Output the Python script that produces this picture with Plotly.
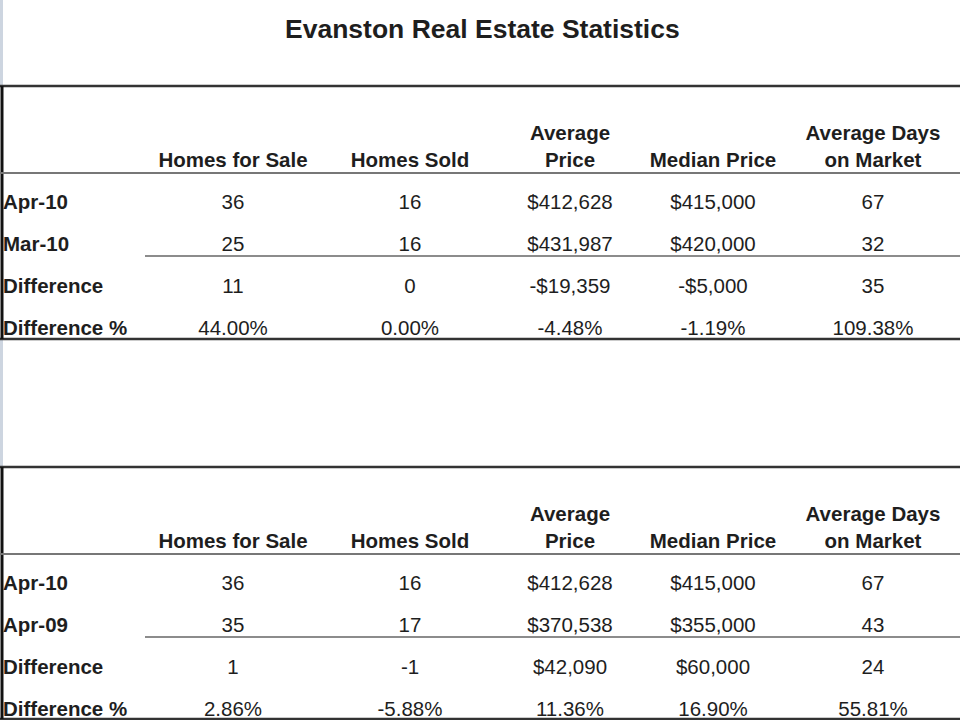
import numpy as np
import plotly.graph_objects as go

#?-------------------------------------------------------------------------------------------------------------------------------
#?  Data
#?-------------------------------------------------------------------------------------------------------------------------------
title        = "Evanston Real Estate Statistics"
columns      = ["Homes for Sale", "Homes Sold", "Average<br>Price", "Median Price", "Average Days<br>on Market"]
money_cols   = [2, 3]

month_labels = ["Apr-10", "Mar-10", "Difference", "Difference %"]
month_cur    = [36, 16, 412628, 415000, 67]
month_prev   = [25, 16, 431987, 420000, 32]
month_diff   = [11, 0, -19359, -5000, 35]
month_pct    = [44.00, 0.00, -4.48, -1.19, 109.38]

year_labels  = ["Apr-10", "Apr-09", "Difference", "Difference %"]
year_cur     = [36, 16, 412628, 415000, 67]
year_prev    = [35, 17, 370538, 355000, 43]
year_diff    = [1, -1, 42090, 60000, 24]
year_pct     = [2.86, -5.88, 11.36, 16.90, 55.81]

#?-------------------------------------------------------------------------------------------------------------------------------
#?  Layout settings (sheet geometry in pixels)
#?-------------------------------------------------------------------------------------------------------------------------------
W, H        = 960, 720
col_widths  = [145, 176, 178, 142, 144, 176]
table_tops  = [86, 467]
head_h      = 87      # top border -> header underline
first_row   = 31      # header underline -> first row centre
row_step    = 41.8
mid_line    = 83      # header underline -> line under 2nd row
table_h     = 253
FONT        = "Liberation Sans, Arial, sans-serif"
INK         = "#1e1e1e"
SIZE        = 20.5

edges   = np.concatenate([[0], np.cumsum(col_widths)])
centers = (edges[:-1] + edges[1:]) / 2
col_x   = centers[1:]

def fmt(v, j, pct=False):
    if pct:
        return f"{v:.2f}%"
    if j in money_cols:
        return ("-" if v < 0 else "") + f"${abs(v):,.0f}"
    return f"{v:d}"

fig = go.Figure()
shapes = []

# light window edge at the left
for y0, y1 in [(0, table_tops[0]), (table_tops[0] + table_h, table_tops[1])]:
    shapes.append(dict(type="rect", xref="x", yref="y", x0=0, x1=3, y0=y0, y1=y1,
                       fillcolor="#cdd5e0", line_width=0, layer="below"))

for top, labels, rows in [(table_tops[0], month_labels, [month_cur, month_prev, month_diff, month_pct]),
                          (table_tops[1], year_labels, [year_cur, year_prev, year_diff, year_pct])]:
    under  = top + head_h
    row_y  = [under + first_row + i * row_step for i in range(len(labels))]
    bottom = min(top + table_h, H - 1)

    # borders
    shapes += [dict(type="line", xref="x", yref="y", x0=0, x1=W, y0=top, y1=top, line=dict(color="#333", width=2.5)),
               dict(type="line", xref="x", yref="y", x0=0, x1=W, y0=bottom, y1=bottom, line=dict(color="#333", width=2.5)),
               dict(type="line", xref="x", yref="y", x0=2, x1=2, y0=top, y1=bottom, line=dict(color="#111", width=3)),
               dict(type="line", xref="x", yref="y", x0=0, x1=W, y0=under, y1=under, line=dict(color="#777", width=2)),
               dict(type="line", xref="x", yref="y", x0=edges[1], x1=W, y0=under + mid_line, y1=under + mid_line,
                    line=dict(color="#666", width=1.6))]

    # header
    fig.add_trace(go.Scatter(x=col_x, y=[under - 1] * len(columns), mode="text", text=columns,
                             textposition="top center", hoverinfo="skip", showlegend=False,
                             textfont=dict(family=FONT, size=SIZE, color=INK, weight="bold")))
    # row labels
    fig.add_trace(go.Scatter(x=[3] * len(labels), y=row_y, mode="text", text=labels,
                             textposition="middle right", hoverinfo="skip", showlegend=False,
                             textfont=dict(family=FONT, size=SIZE, color=INK, weight="bold")))
    # cells
    for i, vals in enumerate(rows):
        pct = i == len(rows) - 1
        fig.add_trace(go.Scatter(x=col_x, y=[row_y[i]] * len(vals), mode="text",
                                 text=[fmt(v, j, pct) for j, v in enumerate(vals)],
                                 textposition="middle center", hoverinfo="skip", showlegend=False,
                                 textfont=dict(family=FONT, size=SIZE, color=INK)))

fig.update_layout(
    width=W, height=H, margin=dict(l=0, r=0, t=0, b=0),
    paper_bgcolor="white", plot_bgcolor="white",
    xaxis=dict(range=[0, W], visible=False, fixedrange=True),
    yaxis=dict(range=[H, 0], visible=False, fixedrange=True),
    shapes=shapes,
    annotations=[dict(text=f"<b>{title}</b>", xref="x", yref="y", x=W / 2 + 2, y=29, showarrow=False,
                      font=dict(family=FONT, size=26.5, color=INK))],
)

# page body has an 8px default margin; drop it so the sheet sits flush like the screenshot
fig.write_html("out.html", config={"displayModeBar": False},
               post_script="document.body.style.margin='0';document.body.style.overflow='hidden';")
